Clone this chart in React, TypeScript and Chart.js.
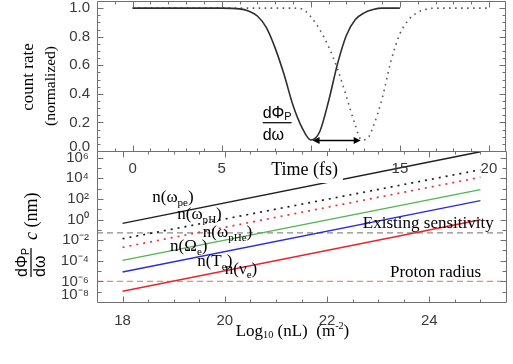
import React, { useEffect, useRef } from 'react';
import { Chart, registerables } from 'chart.js';

Chart.register(...registerables);

// ---------------- Top panel: count rate vs time ----------------
const timeSolid = [0, 5, 6, 6.5, 7, 7.5, 8, 8.5, 9, 9.5, 10, 10.5, 11, 11.5, 12, 12.5, 13, 13.5, 14, 15];
const rateSolid = [1, 1, 0.995, 0.98, 0.945, 0.865, 0.72, 0.535, 0.32, 0.165, 0.077, 0.135, 0.35, 0.61, 0.81, 0.92, 0.967, 0.99, 1, 1];
const timeDotted = [0, 5, 9, 9.5, 10, 10.5, 11, 11.5, 12, 12.5, 12.85, 13.2, 13.5, 14, 14.5, 15, 15.5, 16, 16.5, 17, 20];
const rateDotted = [1, 1, 1, 0.995, 0.94, 0.85, 0.73, 0.575, 0.38, 0.18, 0.077, 0.09, 0.17, 0.365, 0.63, 0.82, 0.92, 0.97, 0.993, 1, 1];
const timeTickLabels = [0, 5, 15, 20];
const rateTickLabels = [0, 0.2, 0.4, 0.6, 0.8, 1.0];
const arrowSpan = [10.1, 12.8];
const arrowLevel = 0.077;

// ---------------- Bottom panel: dPhi/dw c (nm) vs log10(nL) ----------------
const nL = [18, 25];
const nOmegaPe = [0.43, 3.8e6];
const nOmegaPH = [0.0138, 6.8e4];
const nOmegaPHe = [2.0e-3, 1.26e4];
const nOmegaE = [1.1e-4, 794];
const nTe = [8.1e-6, 68];
const nNuE = [1.1e-7, 0.95];
const existingSensitivity = 0.05;
const protonRadius = 1e-6;
const nLRange = [17.5, 25.5];
const nLTickLabels = [18, 20, 22, 24];
const decadeTickLabels = [-8, -6, -4, -2, 0, 2, 4, 6];

const SERIF = '"Liberation Serif", "Times New Roman", serif';
const SANS = '"Liberation Sans", Arial, sans-serif';
const FRAME = '#707070';
const TICKTXT = '#3a3a3a';

const SUP: Record<string, string> = { '0': '⁰', '1': '¹', '2': '²', '3': '³', '4': '⁴', '5': '⁵', '6': '⁶', '7': '⁷', '8': '⁸', '9': '⁹', '-': '⁻' };
const sup = (s: string) => s.split('').map((c) => SUP[c] || c).join('');

type Run = { t: string; sub?: boolean; sup?: boolean; italic?: boolean; scale?: number; dy?: number };

function runFont(r: Run, size: number, family: string) {
  const s = r.scale ? size * r.scale : r.sub || r.sup ? size * 0.65 : size;
  return { font: `${r.italic ? 'italic ' : ''}${s}px ${family}`, s };
}
function runsWidth(ctx: any, runs: Run[], size: number, family: string) {
  let w = 0;
  for (const r of runs) {
    ctx.font = runFont(r, size, family).font;
    w += ctx.measureText(r.t).width;
  }
  return w;
}
function drawRuns(ctx: any, runs: Run[], x: number, y: number, size: number, family: string, color: string, align = 'left') {
  const w = runsWidth(ctx, runs, size, family);
  let cx = align === 'center' ? x - w / 2 : x;
  ctx.fillStyle = color;
  ctx.textAlign = 'left';
  ctx.textBaseline = 'alphabetic';
  for (const r of runs) {
    const { font, s } = runFont(r, size, family);
    ctx.font = font;
    const dy = r.dy !== undefined ? r.dy : r.sub ? s * 0.35 : r.sup ? -size * 0.4 : 0;
    ctx.fillText(r.t, cx, y + dy);
    cx += ctx.measureText(r.t).width;
  }
  return w;
}

function drawFrameTicks(ctx: any, a: any, xs: any, ys: any, xt: Array<[number, number]>, yt: Array<[number, number]>) {
  const L = Math.round(a.left) + 0.5;
  const R = Math.round(a.right) + 0.5;
  const T = Math.round(a.top) + 0.5;
  const B = Math.round(a.bottom) + 0.5;
  ctx.strokeStyle = FRAME;
  ctx.lineWidth = 1;
  ctx.setLineDash([]);
  ctx.beginPath();
  ctx.moveTo(L, T);
  ctx.lineTo(R, T);
  ctx.lineTo(R, B);
  ctx.lineTo(L, B);
  ctx.closePath();
  for (const [v, len] of xt) {
    const p = Math.round(xs.getPixelForValue(v)) + 0.5;
    if (p <= L || p >= R) continue;
    ctx.moveTo(p, T);
    ctx.lineTo(p, T + len);
    ctx.moveTo(p, B);
    ctx.lineTo(p, B - len);
  }
  for (const [v, len] of yt) {
    const p = Math.round(ys.getPixelForValue(v)) + 0.5;
    if (p <= T || p >= B) continue;
    ctx.moveTo(L, p);
    ctx.lineTo(L + len, p);
    ctx.moveTo(R, p);
    ctx.lineTo(R - len, p);
  }
  ctx.stroke();
}

const topDecor = {
  id: 'topDecor',
  afterDraw(chart: any) {
    const { ctx, chartArea: a } = chart;
    const xs = chart.scales.x;
    const ys = chart.scales.y;
    ctx.save();
    const xt: Array<[number, number]> = [];
    for (let t = -2; t <= 20; t++) xt.push([t, t % 5 === 0 ? 6 : 3]);
    const yt: Array<[number, number]> = [];
    for (let i = 0; i <= 21; i++) yt.push([i * 0.05, i % 4 === 0 ? 6 : 3]);
    drawFrameTicks(ctx, a, xs, ys, xt, yt);

    // double arrow between the two minima
    const ay = Math.round(ys.getPixelForValue(arrowLevel)) + 0.5;
    const x1 = xs.getPixelForValue(arrowSpan[0]);
    const x2 = xs.getPixelForValue(arrowSpan[1]);
    ctx.strokeStyle = '#000';
    ctx.fillStyle = '#000';
    ctx.lineWidth = 1.3;
    ctx.beginPath();
    ctx.moveTo(x1 + 4, ay);
    ctx.lineTo(x2 - 4, ay);
    ctx.stroke();
    ctx.beginPath();
    ctx.moveTo(x1, ay);
    ctx.lineTo(x1 + 7, ay - 3.5);
    ctx.lineTo(x1 + 7, ay + 3.5);
    ctx.closePath();
    ctx.moveTo(x2, ay);
    ctx.lineTo(x2 - 7, ay - 3.5);
    ctx.lineTo(x2 - 7, ay + 3.5);
    ctx.closePath();
    ctx.fill();

    // fraction dPhi_P / dw
    const fx = xs.getPixelForValue(7.3);
    const fy = ys.getPixelForValue(0.198);
    const num: Run[] = [{ t: 'dΦ' }, { t: 'P', sub: true, scale: 0.68, dy: 2 }];
    const w = drawRuns(ctx, num, fx, fy - 4.5, 16, SANS, '#000');
    ctx.fillRect(fx, fy - 0.6, w, 1.2);
    drawRuns(ctx, [{ t: 'dω' }], fx, fy + 17, 16, SANS, '#000');

    // y title
    ctx.save();
    ctx.translate(33, (a.top + a.bottom) / 2 + 1);
    ctx.rotate(-Math.PI / 2);
    drawRuns(ctx, [{ t: 'count rate' }], 0, 0, 17, SERIF, '#000', 'center');
    ctx.restore();
    ctx.save();
    ctx.translate(55, (a.top + a.bottom) / 2 + 10);
    ctx.rotate(-Math.PI / 2);
    drawRuns(ctx, [{ t: '(normalized)' }], 0, 0, 15.5, SERIF, '#000', 'center');
    ctx.restore();

    // x title with white backing
    const label = 'Time (fs)';
    ctx.font = `18px ${SERIF}`;
    const tw = ctx.measureText(label).width;
    const cx = xs.getPixelForValue(9.65);
    ctx.fillStyle = '#fff';
    ctx.fillRect(cx - tw / 2 - 5, a.bottom + 5, tw + 10, 27);
    ctx.fillStyle = '#000';
    ctx.textAlign = 'center';
    ctx.textBaseline = 'alphabetic';
    ctx.fillText(label, cx, a.bottom + 24);
    ctx.restore();
  },
};

const lineLabels: Array<{ runs: Run[]; x: number; y: number }> = [
  { runs: [{ t: 'n(ω' }, { t: 'pe', sub: true }, { t: ')' }], x: 18.58, y: 53.7 },
  { runs: [{ t: 'n(ω' }, { t: 'pH', sub: true }, { t: ')' }], x: 19.07, y: 1.12 },
  { runs: [{ t: 'n(ω' }, { t: 'pHe', sub: true }, { t: ')' }], x: 19.57, y: 0.0214 },
  { runs: [{ t: 'n(Ω' }, { t: 'e', sub: true }, { t: ')' }], x: 18.93, y: 9.5e-4 },
  { runs: [{ t: 'n(T' }, { t: 'e', sub: true }, { t: ')' }], x: 19.46, y: 3.1e-5 },
  { runs: [{ t: 'n(ν' }, { t: 'e', sub: true }, { t: ')' }], x: 20.0, y: 5.2e-6 },
  { runs: [{ t: 'Existing sensitivity' }], x: 22.7, y: 0.151 },
  { runs: [{ t: 'Proton radius' }], x: 23.23, y: 2.8e-6 },
];

const bottomDecor = {
  id: 'bottomDecor',
  afterDraw(chart: any) {
    const { ctx, chartArea: a } = chart;
    const xs = chart.scales.x;
    const ys = chart.scales.y;
    ctx.save();
    const xt: Array<[number, number]> = [];
    for (let i = 0; i <= 16; i++) {
      const v = nLRange[0] + i * 0.5;
      xt.push([v, Math.abs(v % 2) < 1e-9 ? 6 : 3]);
    }
    const yt: Array<[number, number]> = [];
    for (let k = -8; k <= 6; k++) yt.push([Math.pow(10, k), k % 2 === 0 ? 6 : 4]);
    drawFrameTicks(ctx, a, xs, ys, xt, yt);

    for (const l of lineLabels) {
      drawRuns(ctx, l.runs, xs.getPixelForValue(l.x), ys.getPixelForValue(l.y), 17, SERIF, '#000');
    }

    // y title: rotated fraction and "c (nm)"
    ctx.save();
    ctx.translate(27, 277);
    ctx.rotate(-Math.PI / 2);
    const w = drawRuns(ctx, [{ t: 'dΦ' }, { t: 'P', sub: true, scale: 0.68, dy: 2 }], 0, 0, 16, SANS, '#000');
    ctx.fillRect(0, 3.4, w, 1.2);
    drawRuns(ctx, [{ t: 'dω' }], 0, 18, 16, SANS, '#000');
    ctx.restore();
    ctx.save();
    ctx.translate(37, 240);
    ctx.rotate(-Math.PI / 2);
    drawRuns(ctx, [{ t: 'c', italic: true }, { t: ' (nm)' }], 0, 0, 18, SERIF, '#000');
    ctx.restore();

    // x title
    drawRuns(
      ctx,
      [{ t: 'Log' }, { t: '10', scale: 0.6, dy: 1.5 }, { t: ' (nL)  (m' }, { t: '-2', scale: 0.6, dy: -7 }, { t: ')' }],
      (a.left + a.right) / 2 - 9,
      a.bottom + 34,
      17,
      SERIF,
      '#000',
      'center'
    );
    ctx.restore();
  },
};

function xy(xv: number[], yv: number[]) {
  return xv.map((x, i) => ({ x, y: yv[i] }));
}

export default function App() {
  const topRef = useRef<HTMLCanvasElement>(null);
  const botRef = useRef<HTMLCanvasElement>(null);

  useEffect(() => {
    const line = (data: any[], color: string, dash: number[] = [], width = 1.4) => ({
      data,
      borderColor: color,
      borderWidth: width,
      borderDash: dash,
      pointRadius: 0,
      fill: false,
      tension: 0,
    });

    const bottom = new Chart(botRef.current as HTMLCanvasElement, {
      type: 'line',
      data: {
        datasets: [
          line(xy(nL, nOmegaPe), '#1e1e1e'),
          line(xy(nL, nOmegaPH), '#1e1e1e', [2, 5], 1.7),
          line(xy(nL, nOmegaPHe), '#e8353a', [2, 5], 1.7),
          line(xy(nL, nOmegaE), '#52b452'),
          line(xy(nL, nTe), '#2a2ae0'),
          line(xy(nL, nNuE), '#e8262a'),
          line(xy(nLRange, [existingSensitivity, existingSensitivity]), '#8c8c8c', [6, 4], 1.2),
          line(xy(nLRange, [protonRadius, protonRadius]), '#ee8585', [6, 4], 1.2),
        ],
      },
      options: {
        responsive: false,
        animation: false,
        devicePixelRatio: 1,
        layout: { padding: { top: 151, right: 7, left: 0, bottom: 0 } },
        plugins: { legend: { display: false }, tooltip: { enabled: false } },
        scales: {
          x: {
            type: 'linear',
            min: nLRange[0],
            max: nLRange[1],
            grid: { display: false, drawTicks: false },
            border: { display: false },
            afterBuildTicks: (s: any) => {
              s.ticks = nLTickLabels.map((v) => ({ value: v }));
            },
            afterFit: (s: any) => {
              s.height = 62;
              s.paddingLeft = 0;
              s.paddingRight = 0;
            },
            ticks: {
              padding: 10,
              autoSkip: false,
              maxRotation: 0,
              color: TICKTXT,
              font: { family: SANS, size: 15 },
              callback: (v: any) => String(v),
            },
          },
          y: {
            type: 'logarithmic',
            min: 1e-8,
            max: 4.47e6,
            grid: { display: false, drawTicks: false },
            border: { display: false },
            afterBuildTicks: (s: any) => {
              s.ticks = decadeTickLabels.map((k) => ({ value: Math.pow(10, k) }));
            },
            afterFit: (s: any) => {
              s.width = 97;
              s.paddingTop = 0;
              s.paddingBottom = 0;
            },
            ticks: {
              padding: 8,
              autoSkip: false,
              color: TICKTXT,
              font: { family: SANS, size: 15, lineHeight: '14px' },
              callback: (v: any) => {
                const k = Math.round(Math.log10(Number(v)));
                const s = '10' + sup(String(k));
                return k === -8 ? [s, ''] : s;
              },
            },
          },
        },
      },
      plugins: [bottomDecor],
    } as any);

    const top = new Chart(topRef.current as HTMLCanvasElement, {
      type: 'line',
      data: {
        datasets: [
          {
            ...line(xy(timeSolid, rateSolid), '#2e2e2e', [], 1.6),
            cubicInterpolationMode: 'monotone',
          },
          {
            ...line(xy(timeDotted, rateDotted), '#5a5a5a', [1.6, 4.4], 1.6),
            cubicInterpolationMode: 'monotone',
          },
        ],
      },
      options: {
        responsive: false,
        animation: false,
        devicePixelRatio: 1,
        layout: { padding: { top: 1, right: 8, left: 0, bottom: 0 } },
        plugins: { legend: { display: false }, tooltip: { enabled: false } },
        scales: {
          x: {
            type: 'linear',
            min: -2,
            max: 20.9,
            grid: { display: false, drawTicks: false },
            border: { display: false },
            afterBuildTicks: (s: any) => {
              s.ticks = timeTickLabels.map((v) => ({ value: v }));
            },
            afterFit: (s: any) => {
              s.height = 213;
              s.paddingLeft = 0;
              s.paddingRight = 0;
            },
            ticks: {
              padding: 9,
              autoSkip: false,
              maxRotation: 0,
              color: TICKTXT,
              font: { family: SANS, size: 15 },
              callback: (v: any) => String(v),
            },
          },
          y: {
            type: 'linear',
            min: 0,
            max: 1.05,
            grid: { display: false, drawTicks: false },
            border: { display: false },
            afterBuildTicks: (s: any) => {
              s.ticks = rateTickLabels.map((v) => ({ value: v }));
            },
            afterFit: (s: any) => {
              s.width = 97;
              s.paddingTop = 0;
              s.paddingBottom = 0;
            },
            ticks: {
              padding: 7,
              autoSkip: false,
              color: TICKTXT,
              font: { family: SANS, size: 15, lineHeight: '8px' },
              callback: (v: any) => (Number(v) === 0 ? ['0.0', ''] : Number(v).toFixed(1)),
            },
          },
        },
      },
      plugins: [topDecor],
    } as any);

    return () => {
      top.destroy();
      bottom.destroy();
    };
  }, []);

  return (
    <div style={{ position: 'absolute', left: 0, top: 0, width: 513, height: 364, background: '#fff' }}>
      <canvas ref={botRef} width={513} height={364} style={{ position: 'absolute', left: 0, top: 0 }} />
      <canvas ref={topRef} width={513} height={364} style={{ position: 'absolute', left: 0, top: 0 }} />
    </div>
  );
}
